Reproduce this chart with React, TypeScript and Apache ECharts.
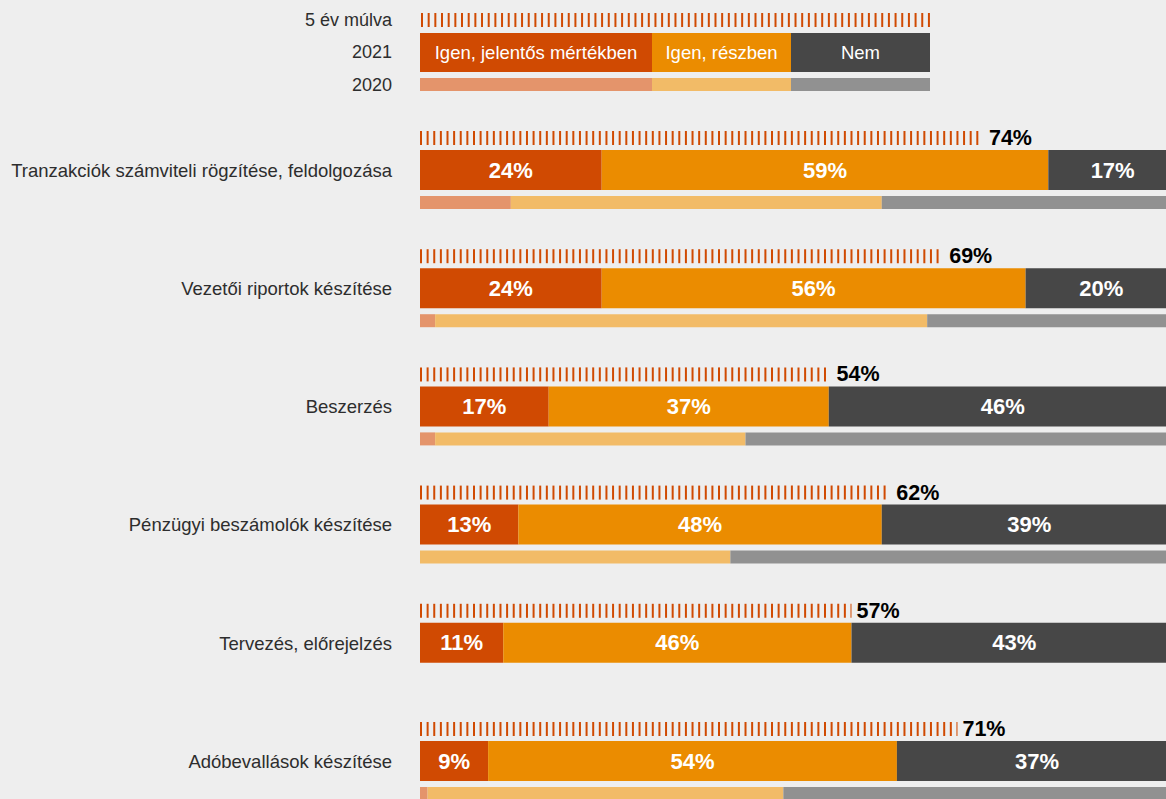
import React, { useEffect, useRef } from "react";
import * as echarts from "echarts";

const categories = [
  "Tranzakciók számviteli rögzítése, feldolgozása",
  "Vezetői riportok készítése",
  "Beszerzés",
  "Pénzügyi beszámolók készítése",
  "Tervezés, előrejelzés",
  "Adóbevallások készítése",
];
const future5y = [74, 69, 54, 62, 57, 71];
const y2021Significant = [24, 24, 17, 13, 11, 9];
const y2021Partial = [59, 56, 37, 48, 46, 54];
const y2021No = [17, 20, 46, 39, 43, 37];
const y2020Significant = [12, 2, 2, null, null, 1];
const y2020Partial = [49, 65, 41, 41, null, 47];
const y2020No = [39, 33, 57, 59, null, 52];

const legendRowLabels = ["5 év múlva", "2021", "2020"];
const legendNames = ["Igen, jelentős mértékben", "Igen, részben", "Nem"];

const C21 = ["#D04A02", "#EB8C00", "#474747"];
const C20 = ["#E4946B", "#F2BB67", "#919191"];
const DASH = "#D04A02";
const FONT = "'Liberation Sans', Arial, Helvetica, sans-serif";

export default function App() {
  const ref = useRef<HTMLDivElement>(null);
  useEffect(() => {
    document.documentElement.style.overflow = "hidden";
    document.body.style.overflow = "hidden";
    document.body.style.margin = "0";
    document.body.style.background = "#eeeeee";
    const chart = echarts.init(ref.current!, null, { renderer: "svg" });

    const graphics: any[] = [];
    const rowY = [20, 52, 85];
    legendRowLabels.forEach((t, i) => {
      graphics.push({
        type: "text",
        x: 392,
        y: rowY[i],
        style: { text: t, fill: "#2d2d2d", font: `18px ${FONT}`, textAlign: "right", textVerticalAlign: "middle" },
      });
    });
    for (let i = 0; i < 77; i++) {
      graphics.push({ type: "rect", shape: { x: 421 + i * 6.67, y: 13, width: 2, height: 14 }, style: { fill: DASH } });
    }
    const segX = [420, 652, 791, 930];
    legendNames.forEach((n, i) => {
      graphics.push({
        type: "rect",
        shape: { x: segX[i], y: 33, width: segX[i + 1] - segX[i], height: 39 },
        style: { fill: C21[i] },
      });
      graphics.push({
        type: "text",
        x: (segX[i] + segX[i + 1]) / 2,
        y: 52.5,
        style: { text: n, fill: "#ffffff", font: `18.5px ${FONT}`, textAlign: "center", textVerticalAlign: "middle" },
      });
      graphics.push({
        type: "rect",
        shape: { x: segX[i], y: 78, width: segX[i + 1] - segX[i], height: 13 },
        style: { fill: C20[i] },
      });
    });

    const label21 = {
      show: true,
      position: "inside",
      formatter: "{c}%",
      color: "#ffffff",
      fontWeight: "bold",
      fontSize: 22,
      fontFamily: FONT,
    };

    const bar21 = (data: any[], color: string) => ({
      type: "bar",
      stack: "y2021",
      barWidth: 40,
      barGap: "15%",
      data,
      itemStyle: { color },
      label: label21,
      silent: true,
    });
    const bar20 = (data: any[], color: string) => ({
      type: "bar",
      stack: "y2020",
      barWidth: 13,
      barGap: "15%",
      data,
      itemStyle: { color },
      label: { show: false },
      silent: true,
    });

    chart.setOption({
      animation: false,
      backgroundColor: "#eeeeee",
      textStyle: { fontFamily: FONT },
      grid: { left: 420, width: 757, top: 111.2, height: 709.2 },
      xAxis: {
        type: "value",
        min: 0,
        max: 100,
        show: false,
      },
      yAxis: {
        type: "category",
        data: categories,
        inverse: true,
        axisLine: { show: false },
        axisTick: { show: false },
        axisLabel: { margin: 28, color: "#2d2d2d", fontSize: 18.5, fontFamily: FONT },
      },
      series: [
        {
          type: "bar",
          stack: "ph",
          barWidth: 16,
          barGap: "15%",
          data: categories.map(() => null),
          silent: true,
        },
        bar21(y2021Significant, C21[0]),
        bar21(y2021Partial, C21[1]),
        bar21(y2021No, C21[2]),
        bar20(y2020Significant, C20[0]),
        bar20(y2020Partial, C20[1]),
        bar20(y2020No, C20[2]),
        {
          type: "pictorialBar",
          data: future5y,
          symbol: "rect",
          symbolSize: [2, 14],
          symbolRepeat: true,
          symbolClip: true,
          symbolMargin: 2.33,
          symbolOffset: [0, -32.3],
          itemStyle: { color: DASH },
          silent: true,
          label: {
            show: true,
            position: "right",
            distance: 4,
            offset: [0, -32.3],
            formatter: "{c}%",
            color: "#000000",
            fontWeight: "bold",
            fontSize: 21.5,
            fontFamily: FONT,
          },
        },
      ],
      graphic: graphics,
    });
    return () => chart.dispose();
  }, []);
  return <div ref={ref} style={{ width: 1185, height: 830, background: "#eeeeee" }} />;
}
